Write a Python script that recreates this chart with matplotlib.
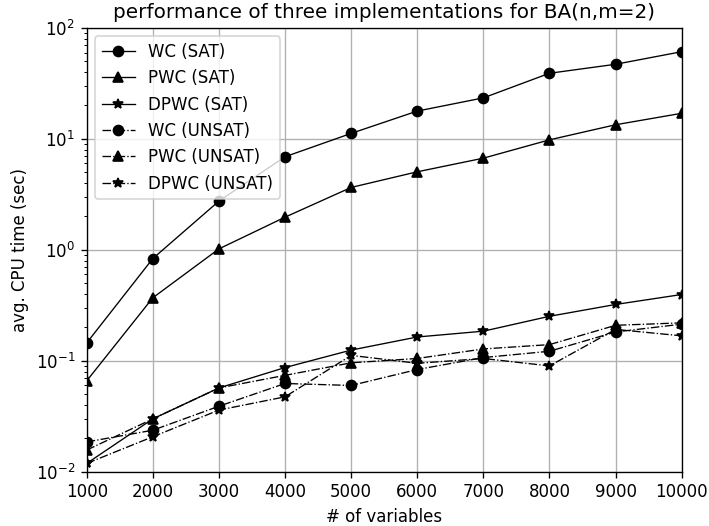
import numpy as np
import matplotlib.pyplot as plt

# data
n_vars = [1000, 2000, 3000, 4000, 5000, 6000, 7000, 8000, 9000, 10000]

wc_sat = [0.145, 0.835, 2.75, 6.9, 11.2, 17.8, 23.4, 39.0, 47.0, 61.0]
pwc_sat = [0.066, 0.37, 1.02, 1.97, 3.65, 5.05, 6.7, 9.8, 13.4, 17.0]
dpwc_sat = [0.0119, 0.030, 0.057, 0.087, 0.125, 0.164, 0.185, 0.252, 0.322, 0.396]

wc_unsat = [0.0186, 0.0237, 0.039, 0.0625, 0.060, 0.0835, 0.107, 0.122, 0.182, 0.214]
pwc_unsat = [0.0157, 0.030, 0.057, 0.074, 0.096, 0.105, 0.128, 0.140, 0.209, 0.220]
dpwc_unsat = [0.0119, 0.0207, 0.036, 0.0474, 0.112, 0.095, 0.105, 0.090, 0.192, 0.168]

# 709x526 px at dpi 120
fig, ax = plt.subplots(figsize=(709 / 120, 526 / 120), dpi=120)

lw = 0.8
ax.plot(n_vars, wc_sat, 'k-', marker='o', lw=lw, label='WC (SAT)')
ax.plot(n_vars, pwc_sat, 'k-', marker='^', lw=lw, label='PWC (SAT)')
ax.plot(n_vars, dpwc_sat, 'k-', marker='*', lw=lw, label='DPWC (SAT)')
ax.plot(n_vars, wc_unsat, 'k-.', marker='o', lw=lw, label='WC (UNSAT)')
ax.plot(n_vars, pwc_unsat, 'k-.', marker='^', lw=lw, label='PWC (UNSAT)')
ax.plot(n_vars, dpwc_unsat, 'k-.', marker='*', lw=lw, label='DPWC (UNSAT)')

ax.set_yscale('log')
ax.set_ylim(1e-2, 1e2)
ax.set_xlim(1000, 10000)
ax.set_xticks(n_vars)
ax.grid(True, which='major')
ax.set_xlabel('# of variables')
ax.set_ylabel('avg. CPU time (sec)')
ax.set_title('performance of three implementations for BA(n,m=2)')
ax.legend(loc='upper left')

plt.subplots_adjust(left=0.1223, right=0.9615, top=0.947, bottom=0.103)
plt.savefig('out.png')
